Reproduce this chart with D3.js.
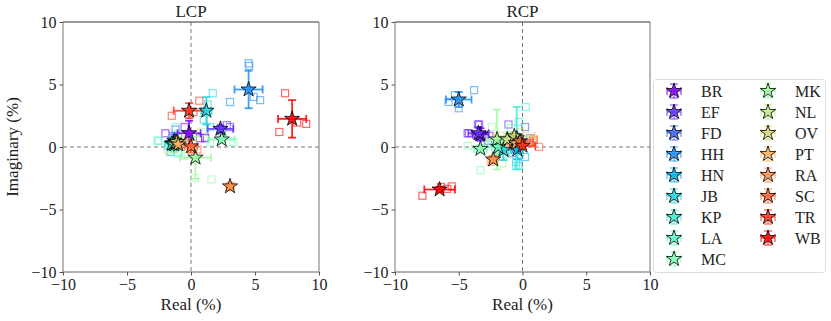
<!DOCTYPE html>
<html lang="en">
<head>
<meta charset="UTF-8">
<title>LCP / RCP</title>
<style>
  body { margin: 0; background: #fff; }
  svg { display: block; }
  text { font-family: "Liberation Serif", "DejaVu Serif", serif; fill: #222; }
</style>
<script src="https://d3js.org/d3.v7.min.js"></script>
</head>
<body>
<svg width="831" height="321"></svg>
<script>
const sites = ['BR','EF','FD','HH','HN','JB','KP','LA','MC','MK','NL','OV','PT','RA','SC','TR','WB'];
const ticks = [-10, -5, 0, 5, 10];

// LCP means and spreads (real, imaginary) in %
const lcpRe    = [-0.15, 2.3, -1.3, 4.5, -1.4, 1.2, -1.5, -1.3, 2.4, 0.35, -1.2, -1.1, -1.0, 3.05, 0.0, -0.15, 7.9];
const lcpIm    = [1.1, 1.45, 0.5, 4.6, 0.3, 2.9, 0.25, 0.2, 0.6, -0.85, 0.35, 0.4, 0.2, -3.15, 0.05, 2.9, 2.25];
const lcpReErr = [0.9, 1.0, 0.4, 1.1, 0.4, 0.4, 0.5, 0.5, 1.0, 1.2, 0.4, 0.4, 0.3, 0.1, 0.5, 1.2, 1.1];
const lcpImErr = [1.0, 0.3, 0.5, 1.5, 0.5, 1.1, 0.5, 0.6, 0.3, 1.7, 0.4, 0.4, 0.3, 0.1, 0.5, 0.6, 1.5];

// RCP means and spreads
const rcpRe    = [-3.3, -3.45, -0.3, -5.0, -0.4, -1.5, -0.45, -1.9, -3.3, -2.0, -1.2, -0.65, -0.5, -2.3, -0.2, 0.0, -6.5];
const rcpIm    = [1.0, 1.1, 0.4, 3.8, -0.2, -0.25, 0.7, 0.0, -0.15, 0.6, 0.6, 0.85, 0.3, -1.0, 0.45, 0.1, -3.4];
const rcpReErr = [0.6, 0.8, 0.5, 1.0, 0.4, 0.6, 0.3, 0.5, 0.5, 0.8, 0.5, 1.6, 0.4, 0.3, 1.0, 1.0, 1.2];
const rcpImErr = [0.5, 0.5, 0.6, 0.6, 0.8, 0.8, 2.5, 0.6, 0.3, 2.4, 0.5, 0.3, 0.4, 0.3, 0.3, 0.25, 0.2];

// individual measurements
const lcpSamples = [
  [[-2.0, 1.1], [0.7, 0.7], [1.1, 0.7], [-0.5, 1.6]],
  [[2.8, 1.75], [3.05, 1.6], [1.1, 0.75], [2.4, 1.3]],
  [[-1.2, 1.4], [-1.4, 0.9], [-0.9, 0.2]],
  [[4.5, 6.7], [4.55, 6.5], [3.05, 3.6], [5.4, 3.75], [4.9, 4.0]],
  [[-1.6, -0.4], [-1.0, 0.8], [-1.8, 0.1]],
  [[1.7, 4.3], [1.0, 2.2], [1.5, 1.6], [1.3, 3.4]],
  [[-2.6, 0.5], [-1.0, -0.5], [-0.7, 1.0]],
  [[-2.5, 0.5], [-0.8, -0.4], [-1.2, 1.6]],
  [[3.3, 0.4], [1.5, 0.4], [2.5, 0.9]],
  [[0.3, -2.5], [1.6, -2.6], [-0.5, -0.7], [0.8, 1.2]],
  [[-1.8, -0.3], [-0.4, 0.8]],
  [[-1.5, -0.2], [-0.6, 0.6]],
  [[-1.3, 0.0], [-0.7, 0.4]],
  [[3.0, -3.2], [3.1, -3.1]],
  [[-0.4, 0.2], [0.5, -0.2]],
  [[-1.5, 2.5], [0.65, 3.7], [0.2, 2.8]],
  [[7.35, 4.3], [6.9, 1.2], [9.0, 1.85], [8.3, 1.95]]
];
const rcpSamples = [
  [[-4.3, 1.1], [-3.4, 1.8], [-2.6, 0.9]],
  [[-4.2, 1.1], [-3.5, 1.8], [-1.1, 1.8], [-2.7, 0.5]],
  [[0.2, 1.6], [-0.8, -0.5], [0.6, 0.7]],
  [[-5.8, 3.6], [-3.8, 4.55], [-5.0, 3.1], [-5.3, 4.15]],
  [[-0.3, -1.5], [0.2, -0.8], [-0.6, 0.9]],
  [[-0.5, -1.2], [-1.0, 0.4], [-0.2, -0.6]],
  [[0.25, 3.2], [-0.5, -1.5], [-0.3, 2.0]],
  [[-2.4, 0.3], [-1.3, -0.6], [-0.9, 1.5]],
  [[-4.3, 0.1], [-3.3, -1.85], [-2.8, 0.2]],
  [[-2.4, 1.6], [-1.6, -1.3], [-1.0, 0.9]],
  [[-1.6, 0.9], [-0.8, 0.2]],
  [[-0.2, 1.2], [0.3, 0.9], [-1.2, 0.6]],
  [[-0.9, 0.1], [-0.2, 0.5]],
  [[-2.5, -1.2], [-2.1, -0.8]],
  [[1.3, 0.0], [0.8, 0.5], [-0.6, 0.4]],
  [[0.6, 0.3], [-0.5, -0.1], [0.9, 0.6]],
  [[-7.85, -3.9], [-5.55, -3.15], [-5.9, -3.35], [-6.4, -3.2]]
];

// matplotlib-like "rainbow": r=|2t-0.5|, g=sin(pi t), b=cos(pi t/2)
function rainbow(t) {
  const r = Math.min(1, Math.abs(2 * t - 0.5));
  const g = Math.sin(Math.PI * t);
  const b = Math.cos(Math.PI * t / 2);
  return d3.rgb(r * 255, g * 255, b * 255).formatHex();
}
const colours = sites.map((s, i) => rainbow(i / (sites.length - 1)));

const svg = d3.select('svg');
const star = d3.symbol().type(d3.symbolStar).size(72);

const panels = [
  {title: 'LCP', left: 63, right: 319, re: lcpRe, im: lcpIm, reErr: lcpReErr, imErr: lcpImErr, samples: lcpSamples, ylabel: true},
  {title: 'RCP', left: 395, right: 650, re: rcpRe, im: rcpIm, reErr: rcpReErr, imErr: rcpImErr, samples: rcpSamples, ylabel: false}
];
const plotTop = 22, plotBottom = 272;

function errorbar(g, cx, cy, x0, x1, y0, y1, col, op) {
  const cap = 4;
  const eb = g.append('g').attr('stroke', col).attr('stroke-width', 1.8).attr('stroke-opacity', op);
  eb.append('line').attr('x1', x0).attr('x2', x1).attr('y1', cy).attr('y2', cy);
  eb.append('line').attr('x1', cx).attr('x2', cx).attr('y1', y0).attr('y2', y1);
  [x0, x1].forEach(x => eb.append('line').attr('x1', x).attr('x2', x).attr('y1', cy - cap).attr('y2', cy + cap));
  [y0, y1].forEach(y => eb.append('line').attr('x1', cx - cap).attr('x2', cx + cap).attr('y1', y).attr('y2', y));
}

panels.forEach(p => {
  const x = d3.scaleLinear().domain([-10, 10]).range([p.left, p.right]);
  const y = d3.scaleLinear().domain([-10, 10]).range([plotBottom, plotTop]);
  const g = svg.append('g');

  // zero lines
  g.append('line').attr('x1', x(0)).attr('x2', x(0)).attr('y1', plotTop).attr('y2', plotBottom)
    .attr('stroke', '#777').attr('stroke-dasharray', '4,3');
  g.append('line').attr('x1', p.left).attr('x2', p.right).attr('y1', y(0)).attr('y2', y(0))
    .attr('stroke', '#777').attr('stroke-dasharray', '4,3');

  // raw measurements
  const sq = 7;
  p.samples.forEach((pts, i) => {
    g.selectAll(null).data(pts).enter().append('rect')
      .attr('x', d => x(d[0]) - sq / 2).attr('y', d => y(d[1]) - sq / 2)
      .attr('width', sq).attr('height', sq)
      .attr('fill', 'none').attr('stroke', colours[i]).attr('stroke-width', 1.2).attr('stroke-opacity', 0.6);
  });

  // means with spread
  sites.forEach((s, i) => {
    const cx = x(p.re[i]), cy = y(p.im[i]);
    errorbar(g, cx, cy, x(p.re[i] - p.reErr[i]), x(p.re[i] + p.reErr[i]),
      y(p.im[i] - p.imErr[i]), y(p.im[i] + p.imErr[i]), colours[i], 0.85);
  });
  sites.forEach((s, i) => {
    g.append('path').attr('d', star)
      .attr('transform', `translate(${x(p.re[i])},${y(p.im[i])})`)
      .attr('fill', colours[i]).attr('fill-opacity', 0.85)
      .attr('stroke', '#000').attr('stroke-width', 0.8);
  });

  // frame
  g.append('line').attr('x1', p.left).attr('x2', p.right).attr('y1', plotTop).attr('y2', plotTop).attr('stroke', '#333');
  g.append('line').attr('x1', p.left).attr('x2', p.right).attr('y1', plotBottom).attr('y2', plotBottom).attr('stroke', '#666');
  g.append('line').attr('x1', p.left).attr('x2', p.left).attr('y1', plotTop).attr('y2', plotBottom).attr('stroke', '#777');
  g.append('line').attr('x1', p.right).attr('x2', p.right).attr('y1', plotTop).attr('y2', plotBottom).attr('stroke', '#777');

  const fmt = d => d < 0 ? '\u2212' + Math.abs(d) : d;
  const xa = g.append('g').attr('transform', `translate(0,${plotBottom})`)
    .call(d3.axisBottom(x).tickValues(ticks).tickSize(3.5).tickPadding(3).tickFormat(fmt));
  const ya = g.append('g').attr('transform', `translate(${p.left},0)`)
    .call(d3.axisLeft(y).tickValues(ticks).tickSize(3.5).tickPadding(3).tickFormat(fmt));
  [xa, ya].forEach(a => {
    a.select('.domain').remove();
    a.selectAll('.tick line').attr('stroke', '#555');
    a.selectAll('text').attr('font-size', 16).attr('font-family', '"Liberation Serif", serif').attr('fill', '#222');
  });

  g.append('text').attr('x', (p.left + p.right) / 2).attr('y', 17)
    .attr('text-anchor', 'middle').attr('font-size', 17).text(p.title);
  g.append('text').attr('x', (p.left + p.right) / 2).attr('y', 310)
    .attr('text-anchor', 'middle').attr('font-size', 17).text('Real (%)');
  if (p.ylabel) {
    g.append('text').attr('transform', `translate(18,${(plotTop + plotBottom) / 2}) rotate(-90)`)
      .attr('text-anchor', 'middle').attr('font-size', 17).text('Imaginary (%)');
  }
});

// legend
const lg = svg.append('g');
lg.append('rect').attr('x', 653.5).attr('y', 79.5).attr('width', 172).attr('height', 193).attr('rx', 3)
  .attr('fill', '#fff').attr('stroke', '#ddd');
sites.forEach((s, i) => {
  const col = i < 9 ? 0 : 1;
  const row = i < 9 ? i : i - 9;
  const mx = col === 0 ? 674 : 768;
  const my = 91 + row * 21;
  errorbar(lg, mx, my, mx - 7, mx + 7, my - 7, my + 7, colours[i], 0.5);
  lg.append('path').attr('d', star).attr('transform', `translate(${mx},${my})`)
    .attr('fill', colours[i]).attr('fill-opacity', 0.85).attr('stroke', '#000').attr('stroke-width', 0.8);
  lg.append('text').attr('x', mx + 27).attr('y', my + 5.5).attr('font-size', 16).text(s);
});
</script>
</body>
</html>
